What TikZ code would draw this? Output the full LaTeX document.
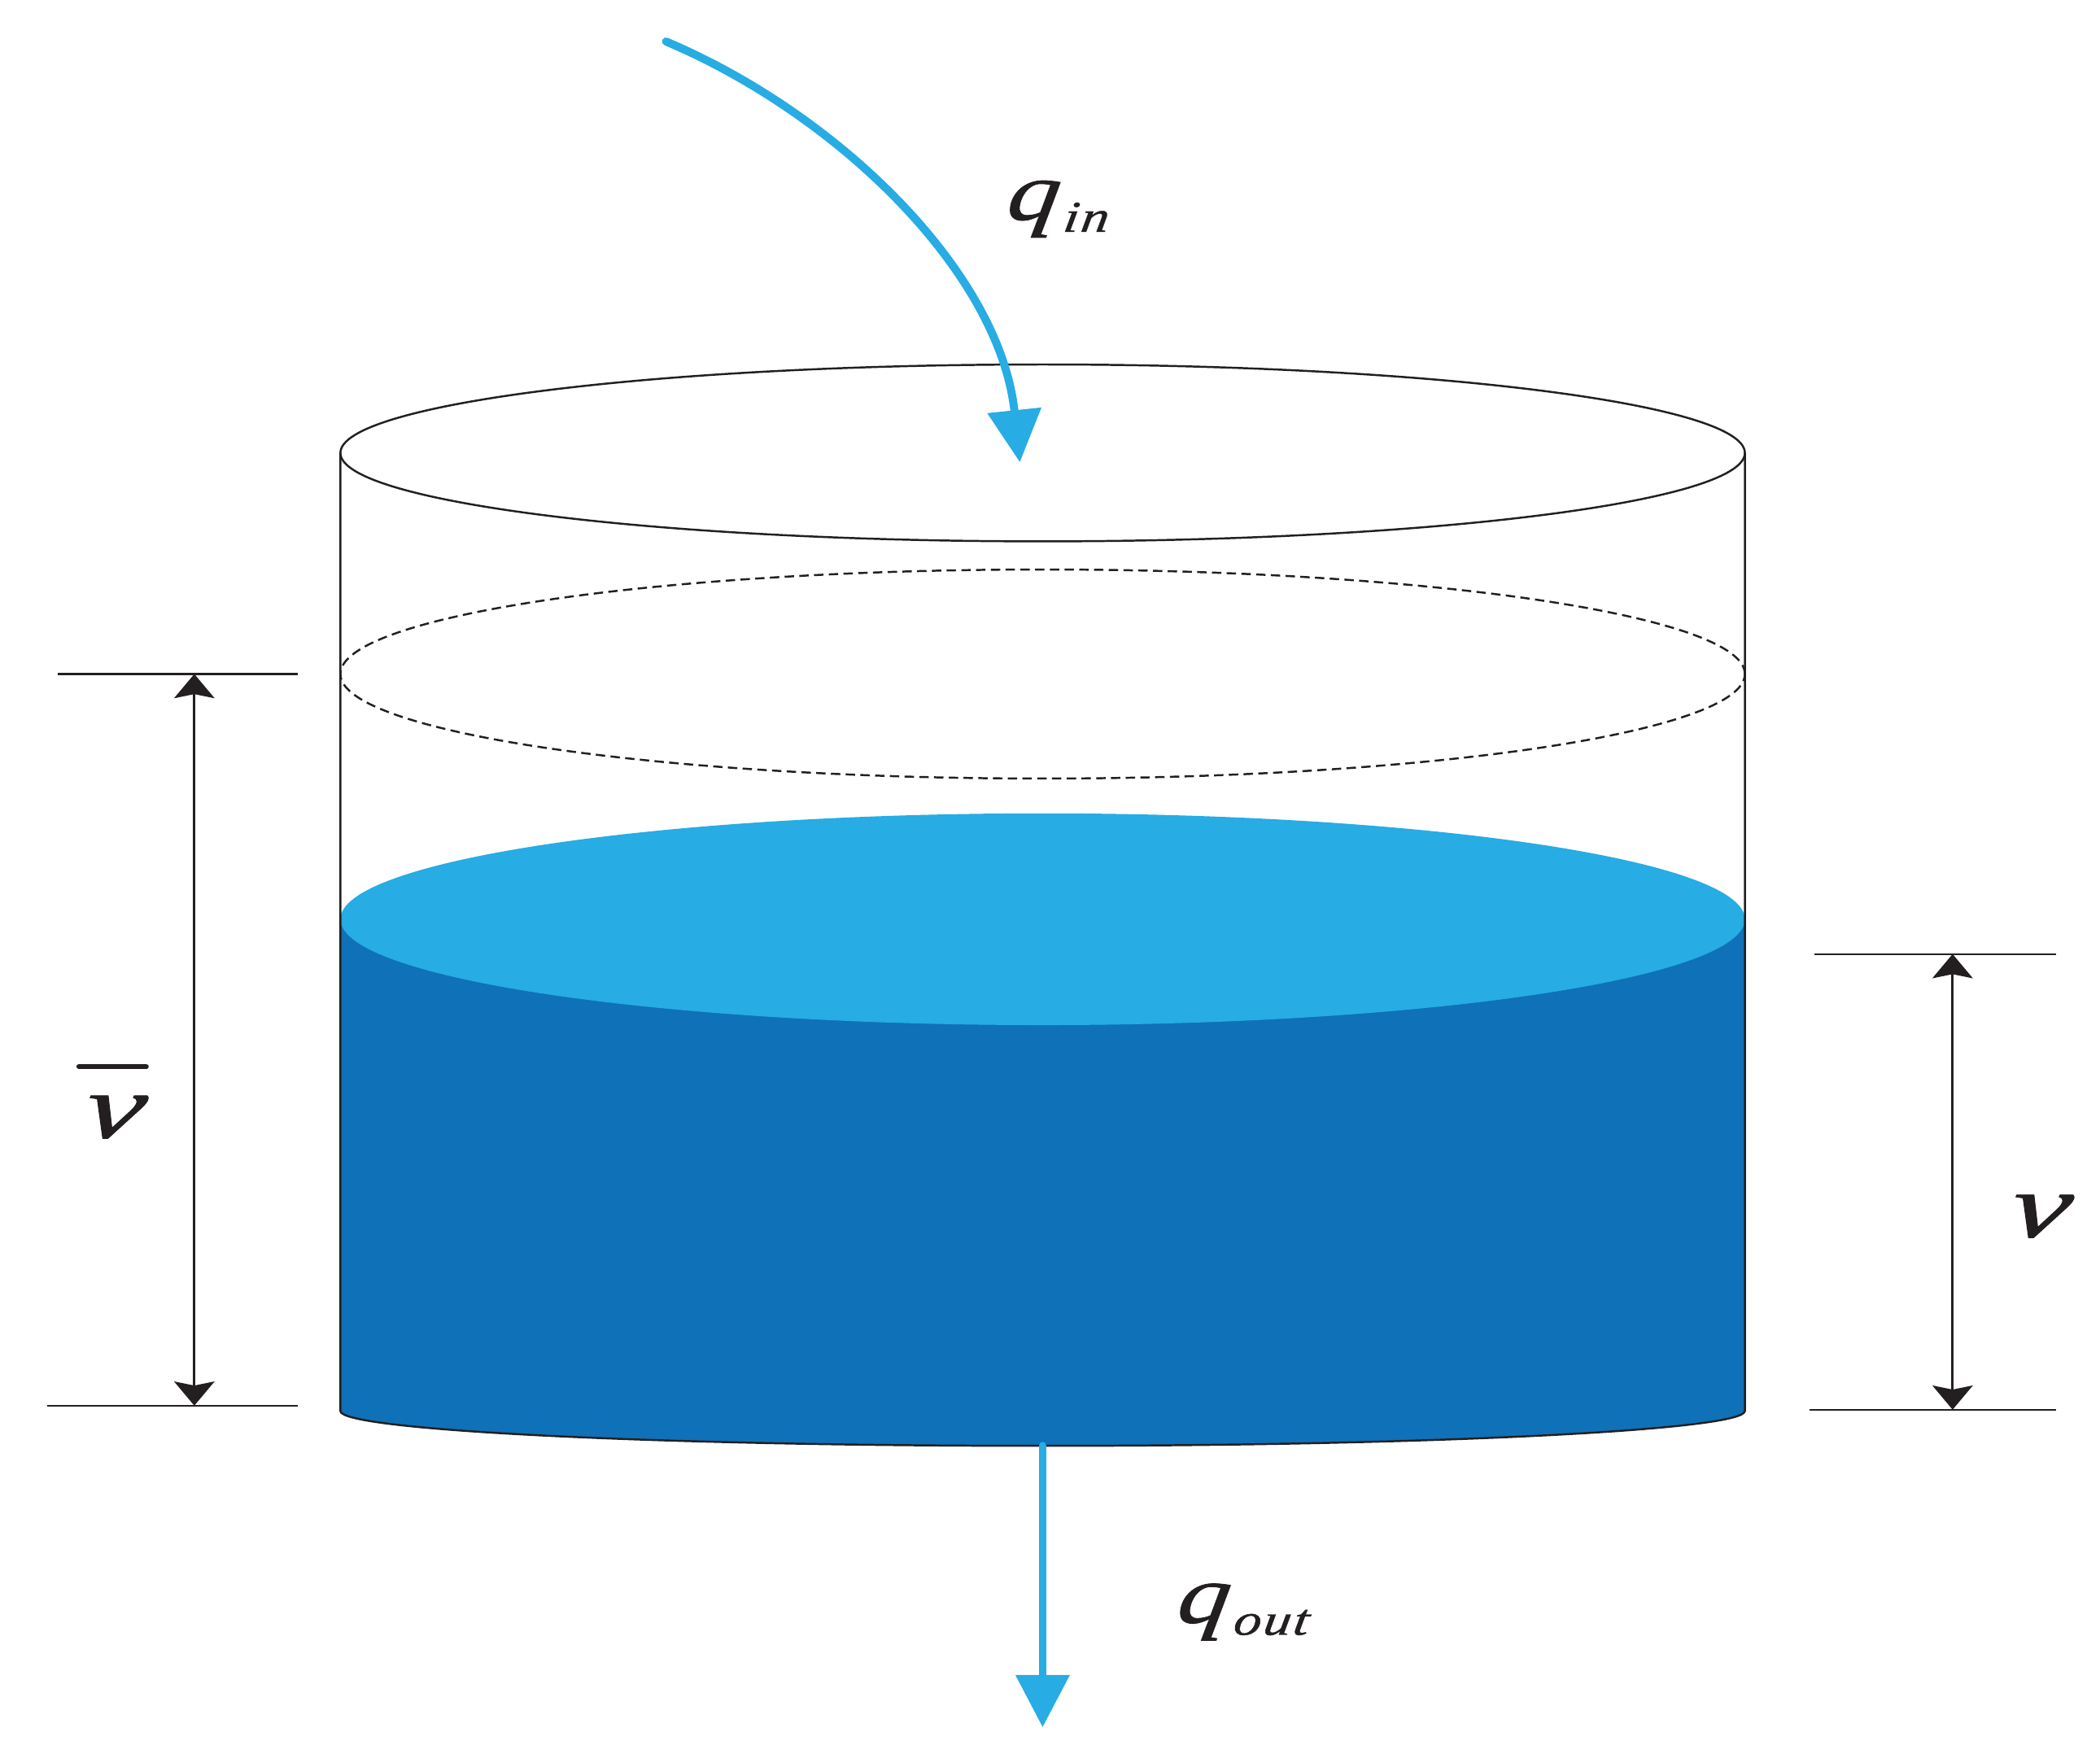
\documentclass[tikz,border=0pt]{standalone}
\usepackage{fontspec}
\newfontfamily\symfont[FakeBold=0.8,FakeSlant=0.12]{Liberation Serif}
\usetikzlibrary{arrows.meta}
\definecolor{lightwater}{HTML}{27ACE3}
\definecolor{darkwater}{HTML}{0F71B8}
\definecolor{inkblack}{HTML}{231F20}
\newcommand{\subtxt}[1]{\raisebox{-9pt}{\fontsize{33}{35}\selectfont\addfontfeature{LetterSpace=4}\kern3pt #1}}
\tikzset{
  thinline/.style={draw=inkblack,line width=1.5pt},
  dimline/.style={draw=inkblack,line width=1.8pt,{Stealth[length=18pt,width=30pt,inset=3pt]}-{Stealth[length=18pt,width=30pt,inset=3pt]}},
  flowline/.style={draw=lightwater,line width=6pt,line cap=round,-{Triangle[length=39pt,width=39pt]}},
  sym/.style={inner sep=0pt,outer sep=0pt,text=inkblack,xscale=1.25,font=\fontsize{62}{66}\symfont\itshape},
  symv/.style={sym,xscale=1.3,yscale=1.1},
}
\begin{document}
\begin{tikzpicture}[x=1pt,y=-1pt]
\useasboundingbox (0,0) rectangle (1567,1308.4);
% named points
\coordinate (tl) at (254,338);
\coordinate (tr) at (1302,338);
\coordinate (bl) at (254,1053);
\coordinate (br) at (1302,1053);
\coordinate (topc) at (778,338);
\coordinate (dashc) at (778,503);
\coordinate (waterc) at (778,686);
\coordinate (botc) at (778,1079);
\coordinate (inS) at (497,31);
\coordinate (inE) at (761,345);
\coordinate (outE) at (778,1289);
\coordinate (L1a) at (43,503);   \coordinate (L1b) at (222,503);
\coordinate (L2a) at (35,1049);  \coordinate (L2b) at (222,1049);
\coordinate (R1a) at (1354,712); \coordinate (R1b) at (1534,712);
\coordinate (R2a) at (1350,1052);\coordinate (R2b) at (1534,1052);
\coordinate (LT) at (145,503);   \coordinate (LB) at (145,1049);
\coordinate (RT) at (1457,712);  \coordinate (RB) at (1457,1052);
% water body
\fill[darkwater] (254,686) -- (bl) .. controls (254,1067.4) and (488.6,1079) .. (botc)
  .. controls (1067.4,1079) and (1302,1067.4) .. (br) -- (1302,686) -- cycle;
\fill[lightwater] (waterc) ellipse [x radius=524pt,y radius=79pt];
% tank
\draw[thinline] (tl) -- (bl) .. controls (254,1067.4) and (488.6,1079) .. (botc)
  .. controls (1067.4,1079) and (1302,1067.4) .. (br) -- (tr);
\draw[thinline] (topc) ellipse [x radius=524pt,y radius=66pt];
\draw[thinline,dash pattern=on 7pt off 4pt] (dashc) ellipse [x radius=524pt,y radius=78pt];
% dimension lines
\draw[thinline] (L1a) -- (L1b);
\draw[thinline] (L2a) -- (L2b);
\draw[thinline] (R1a) -- (R1b);
\draw[thinline] (R2a) -- (R2b);
\draw[dimline] (LT) -- (LB);
\draw[dimline] (RT) -- (RB);
% flows
\draw[flowline] (inS) .. controls (625,85) and (746,203) .. (inE);
\draw[flowline] (botc) -- (outE);
% labels
\node[sym,anchor=base west] (qin) at (750,164) {q\subtxt{in}};
\node[sym,anchor=base west] (qout) at (877,1211) {q\subtxt{out}};
\node[symv,anchor=base] (vbar) at (83,849) {v};
\draw[inkblack,line width=4pt,line cap=round] (59,796) -- (109,796);
\node[symv,anchor=base] (vr) at (1520,923) {v};
\end{tikzpicture}
\end{document}
